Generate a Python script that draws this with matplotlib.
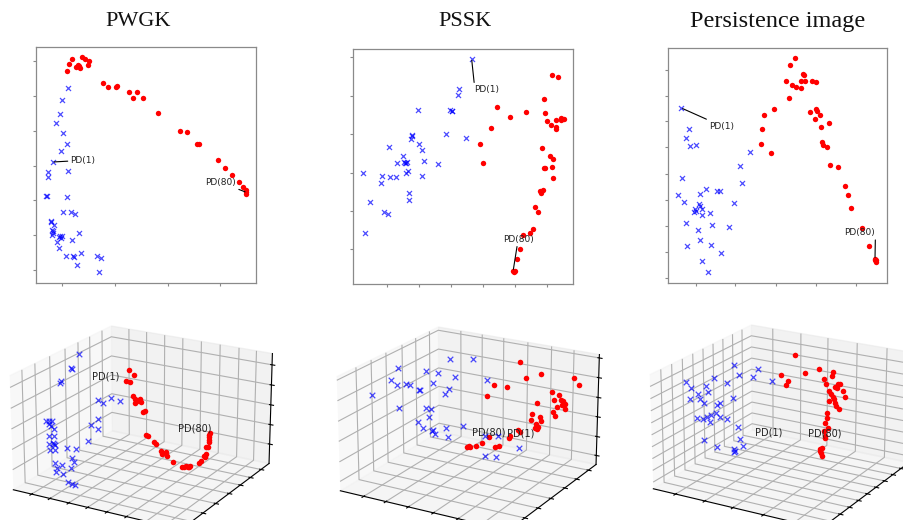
import numpy as np
import matplotlib
matplotlib.use("Agg")
import matplotlib.pyplot as plt
from matplotlib.ticker import NullFormatter
from mpl_toolkits.mplot3d import Axes3D  # noqa: F401

W, H = 904, 520
fig = plt.figure(figsize=(W / 100, H / 100), dpi=100)

titles = ["PWGK", "PSSK", "Persistence image"]

# ---------------- 2D embeddings (arbitrary embedding units) ----------------
pwgk_blue = np.array([
    (15.8, 41.3), (20.3, 63.6), (18.6, 60.0), (18.0, 55.6), (16.9, 53.0), (18.8, 50.0),
    (20.1, 46.6), (18.4, 44.6), (14.3, 38.2), (14.3, 36.8), (20.4, 38.5), (13.9, 31.1),
    (14.1, 31.0), (20.2, 30.7), (19.0, 26.2), (21.4, 26.4), (22.6, 25.7), (15.2, 23.7),
    (15.4, 23.4), (16.2, 22.3), (15.7, 20.8), (15.9, 20.5), (15.5, 19.3), (23.7, 20.1),
    (18.0, 19.1), (17.6, 18.8), (18.2, 18.4), (18.5, 19.2), (17.2, 17.2), (21.7, 18.0),
    (17.7, 15.4), (19.8, 13.2), (21.9, 13.2), (22.3, 12.9), (24.2, 14.0), (23.1, 10.5),
    (29.0, 13.0), (30.4, 12.5), (29.7, 8.4), (16.0, 20.0)])
pwgk_red = np.array([
    (21.7, 72.3), (24.7, 72.7), (25.5, 72.3), (26.8, 71.7), (20.8, 70.7), (26.5, 70.4),
    (22.8, 69.7), (23.3, 70.3), (24.1, 69.5), (20.2, 68.7), (23.6, 70.0), (31.0, 65.0),
    (32.3, 63.8), (34.8, 63.7), (35.2, 64.0), (38.8, 62.3), (41.2, 62.3), (39.9, 60.4),
    (43.0, 60.4), (47.5, 56.0), (54.0, 50.6), (56.0, 50.2), (59.0, 46.8), (59.8, 46.8),
    (65.3, 41.8), (67.5, 39.6), (69.5, 37.4), (71.6, 35.3), (73.0, 33.8), (73.7, 32.8),
    (73.8, 31.7), (73.9, 32.2)])

pssk_blue = np.array([
    (51.5, 72.2), (47.8, 63.2), (47.4, 61.5), (35.5, 56.9), (45.0, 56.8), (45.6, 56.5),
    (43.8, 49.8), (49.9, 48.6), (33.7, 49.4), (33.3, 48.1), (35.8, 46.8), (26.7, 45.7),
    (36.7, 44.8), (30.8, 43.0), (29.0, 41.0), (31.3, 41.0), (32.0, 41.3), (37.2, 41.6),
    (41.5, 40.6), (18.8, 38.0), (31.6, 38.2), (32.5, 38.8), (24.5, 37.3), (27.0, 36.8),
    (28.7, 36.8), (36.7, 37.1), (24.3, 35.1), (32.8, 32.1), (32.8, 30.1), (20.9, 29.5),
    (25.0, 26.5), (26.3, 25.8), (19.4, 20.0), (31.2, 41.2), (45.5, 56.7), (33.6, 49.2),
    (31.8, 41.0)])
pssk_red = np.array([
    (75.7, 67.4), (77.6, 66.9), (73.2, 60.2), (59.0, 57.7), (63.0, 54.8), (67.8, 56.3),
    (73.5, 55.9), (74.1, 53.5), (77.0, 53.9), (78.5, 54.6), (79.2, 54.2), (75.5, 52.4),
    (77.0, 51.7), (76.8, 51.2), (57.2, 51.6), (54.1, 46.8), (54.9, 41.0), (72.7, 45.5),
    (75.0, 43.1), (75.9, 42.3), (73.5, 39.7), (75.6, 39.8), (76.1, 36.7), (72.0, 32.8),
    (73.0, 33.1), (72.3, 32.0), (70.6, 28.0), (71.5, 26.4), (70.0, 21.2), (69.0, 20.0),
    (67.0, 19.5), (66.2, 15.4), (65.2, 12.4), (78.5, 54.0), (73.4, 39.6), (64.3, 8.5),
    (64.5, 8.8), (64.0, 8.8)])

pi_blue = np.array([
    (24.5, 57.7), (26.8, 51.5), (25.8, 48.7), (27.0, 46.2), (28.9, 46.5), (45.0, 44.5),
    (42.0, 40.2), (24.6, 36.6), (42.7, 35.3), (23.4, 31.7), (30.1, 31.8), (31.9, 33.4),
    (35.2, 32.7), (36.2, 32.7), (25.4, 29.5), (29.7, 28.9), (28.5, 27.3), (30.8, 27.3),
    (28.3, 26.4), (30.6, 25.7), (33.1, 26.1), (40.2, 29.1), (26.0, 23.2), (33.8, 22.6),
    (29.4, 21.0), (38.9, 22.1), (30.2, 18.1), (26.2, 16.3), (33.3, 16.5), (36.4, 14.2),
    (30.8, 11.8), (32.6, 8.5), (28.8, 26.8), (30.0, 28.3)])
pi_red = np.array([
    (58.5, 72.7), (57.1, 70.7), (55.8, 65.9), (57.6, 64.7), (59.0, 64.0), (60.4, 63.8),
    (61.1, 68.0), (61.3, 67.5), (60.5, 65.9), (61.7, 65.9), (63.8, 65.9), (65.0, 65.6),
    (56.7, 60.8), (52.3, 57.5), (49.3, 55.6), (48.7, 51.5), (48.3, 46.8), (51.5, 44.3),
    (63.1, 56.6), (64.8, 57.3), (65.3, 56.8), (66.0, 55.5), (64.5, 54.5), (68.8, 53.2),
    (66.4, 51.9), (66.8, 47.4), (67.1, 46.7), (68.2, 45.9), (69.2, 40.5), (71.4, 40.0),
    (73.6, 34.2), (74.4, 31.6), (75.5, 27.8), (78.7, 21.7), (80.7, 16.3), (82.8, 11.5),
    (83.0, 12.2), (82.5, 12.0), (82.6, 12.5)])

# axis limits and tick positions of the 2D panels
xlims2d = [(10.8, 76.8), (15.8, 82.0), (20.5, 86.2)]
ylims2d = [(5.0, 75.8), (4.8, 75.2), (5.2, 75.7)]
xticks2d = [[18.7, 34.5, 50.3, 66.0],
            [26.0, 35.7, 45.3, 55.0, 64.5, 74.2],
            [29.0, 40.7, 52.8, 65.0, 77.0]]
yticks2d = [[8.8, 19.4, 29.8, 40.2, 50.6, 61.0, 71.5],
            [15.2, 26.7, 38.2, 49.7, 61.2, 72.7],
            [6.7, 14.5, 22.3, 30.2, 38.0, 45.9, 53.7, 61.4, 69.2]]
# label text centres (PD(1), PD(80))
label_pos2d = [((24.9, 41.8), (66.2, 35.2)),
               ((56.1, 63.0), (65.5, 18.2)),
               ((36.6, 52.3), (78.1, 20.3))]
label_relpos = [((0.5, 0.5), (0.5, 0.5)),
                ((0.0, 1.0), (0.5, 0.5)),
                ((0.5, 0.5), (1.0, 0.0))]

# ---------------- 3D embeddings (normalised units) ----------------
pwgk3_blue = np.array([
    (0.067, 0.55, 0.956), (0.015, 0.55, 0.818), (0.021, 0.55, 0.810), (0.017, 0.45, 0.746),
    (0.012, 0.45, 0.729), (0.186, 0.55, 0.571), (0.220, 0.55, 0.556), (0.266, 0.55, 0.613),
    (0.322, 0.55, 0.603), (0.280, 0.40, 0.506), (0.234, 0.40, 0.437), (0.274, 0.40, 0.418),
    (0.213, 0.40, 0.286), (0.082, 0.20, 0.533), (0.103, 0.20, 0.539), (0.120, 0.20, 0.544),
    (0.099, 0.20, 0.507), (0.110, 0.20, 0.494), (0.128, 0.20, 0.473), (0.095, 0.20, 0.404),
    (0.131, 0.20, 0.409), (0.099, 0.20, 0.328), (0.120, 0.20, 0.344), (0.128, 0.20, 0.337),
    (0.103, 0.20, 0.283), (0.135, 0.20, 0.287), (0.208, 0.20, 0.330), (0.262, 0.20, 0.334),
    (0.135, 0.20, 0.333), (0.241, 0.20, 0.248), (0.254, 0.20, 0.215), (0.229, 0.20, 0.158),
    (0.135, 0.20, 0.170), (0.177, 0.20, 0.167), (0.141, 0.20, 0.132), (0.135, 0.20, 0.088),
    (0.183, 0.20, 0.092), (0.212, 0.20, 0.024), (0.239, 0.20, 0.017), (0.254, 0.20, 0.012)])
pwgk3_red = np.array([
    (0.352, 0.6, 0.863), (0.379, 0.6, 0.828), (0.331, 0.6, 0.764), (0.356, 0.6, 0.757),
    (0.377, 0.6, 0.640), (0.390, 0.6, 0.613), (0.400, 0.6, 0.601), (0.390, 0.6, 0.576),
    (0.421, 0.6, 0.622), (0.425, 0.6, 0.599), (0.436, 0.6, 0.510), (0.452, 0.6, 0.524),
    (0.457, 0.6, 0.310), (0.469, 0.6, 0.305), (0.502, 0.6, 0.262), (0.515, 0.6, 0.245),
    (0.546, 0.6, 0.192), (0.555, 0.6, 0.164), (0.582, 0.6, 0.194), (0.588, 0.6, 0.162),
    (0.624, 0.6, 0.111), (0.676, 0.6, 0.090), (0.703, 0.6, 0.101), (0.728, 0.6, 0.115),
    (0.714, 0.6, 0.095), (0.777, 0.6, 0.154), (0.791, 0.6, 0.180), (0.808, 0.6, 0.231),
    (0.818, 0.6, 0.311), (0.837, 0.6, 0.378), (0.837, 0.6, 0.425), (0.839, 0.6, 0.364),
    (0.818, 0.6, 0.250), (0.687, 0.6, 0.093), (0.722, 0.6, 0.104), (0.812, 0.6, 0.217),
    (0.839, 0.6, 0.410), (0.833, 0.6, 0.316), (0.843, 0.6, 0.448)])

pssk3_blue = np.array([
    (0.252, 0.7, 0.902), (0.398, 0.7, 0.940), (0.048, 0.5, 0.859), (0.226, 0.5, 0.875),
    (0.299, 0.5, 0.880), (0.002, 0.5, 0.737), (0.038, 0.5, 0.702), (0.100, 0.5, 0.731),
    (0.121, 0.5, 0.721), (0.268, 0.5, 0.780), (0.402, 0.5, 0.871), (0.596, 0.5, 0.901),
    (0.180, 0.5, 0.699), (0.186, 0.5, 0.694), (0.368, 0.5, 0.756), (0.343, 0.5, 0.702),
    (0.054, 0.5, 0.497), (0.222, 0.5, 0.548), (0.253, 0.5, 0.542), (0.243, 0.5, 0.472),
    (0.169, 0.5, 0.405), (0.205, 0.5, 0.362), (0.264, 0.5, 0.355), (0.280, 0.5, 0.323),
    (0.259, 0.5, 0.347), (0.347, 0.5, 0.405), (0.452, 0.5, 0.452), (0.362, 0.5, 0.329),
    (0.588, 0.5, 0.407), (0.667, 0.5, 0.430), (0.789, 0.5, 0.359), (0.588, 0.5, 0.219),
    (0.655, 0.5, 0.239), (0.014, 0.3, 0.698)])
pssk3_red = np.array([
    (0.627, 0.8, 0.924), (0.669, 0.8, 0.792), (0.756, 0.8, 0.853), (0.951, 0.8, 0.871),
    (0.983, 0.8, 0.819), (0.470, 0.8, 0.674), (0.551, 0.8, 0.680), (0.430, 0.8, 0.570),
    (0.824, 0.8, 0.710), (0.863, 0.8, 0.700), (0.738, 0.8, 0.592), (0.834, 0.8, 0.645),
    (0.876, 0.8, 0.655), (0.891, 0.8, 0.653), (0.903, 0.8, 0.626), (0.882, 0.8, 0.611),
    (0.855, 0.8, 0.590), (0.905, 0.8, 0.587), (0.832, 0.8, 0.537), (0.847, 0.8, 0.502),
    (0.706, 0.8, 0.478), (0.702, 0.8, 0.421), (0.754, 0.8, 0.467), (0.763, 0.8, 0.430),
    (0.731, 0.8, 0.399), (0.744, 0.8, 0.378), (0.723, 0.8, 0.357), (0.738, 0.8, 0.352),
    (0.633, 0.8, 0.298), (0.623, 0.8, 0.308), (0.570, 0.8, 0.243), (0.564, 0.8, 0.222),
    (0.441, 0.8, 0.188), (0.399, 0.8, 0.120), (0.357, 0.8, 0.083), (0.313, 0.8, 0.064),
    (0.319, 0.8, 0.056), (0.481, 0.8, 0.105), (0.504, 0.8, 0.130), (0.300, 0.8, 0.050)])

pi3_blue = np.array([
    (0.163, 0.55, 0.875), (0.314, 0.55, 0.877), (0.193, 0.55, 0.797), (0.281, 0.55, 0.802),
    (0.398, 0.55, 0.792), (0.038, 0.55, 0.726), (0.115, 0.55, 0.697), (0.155, 0.55, 0.574),
    (0.071, 0.55, 0.508), (0.050, 0.55, 0.477), (0.042, 0.55, 0.401), (0.067, 0.55, 0.372),
    (0.115, 0.55, 0.374), (0.184, 0.55, 0.321), (0.197, 0.55, 0.208), (0.214, 0.55, 0.155),
    (0.046, 0.55, 0.088), (0.155, 0.55, 0.103), (0.161, 0.55, 0.092), (0.155, 0.55, 0.081),
    (0.018, 0.30, 0.798), (0.049, 0.30, 0.758), (0.146, 0.30, 0.800), (0.154, 0.30, 0.753),
    (0.095, 0.30, 0.719), (0.045, 0.30, 0.661), (0.108, 0.30, 0.671), (0.129, 0.30, 0.643),
    (0.175, 0.30, 0.553), (0.150, 0.30, 0.530), (0.085, 0.30, 0.495), (0.125, 0.30, 0.498),
    (0.167, 0.30, 0.486), (0.127, 0.30, 0.317)])
pi3_red = np.array([
    (0.395, 0.8, 0.912), (0.311, 0.8, 0.709), (0.351, 0.8, 0.659), (0.343, 0.8, 0.626),
    (0.456, 0.8, 0.762), (0.543, 0.8, 0.822), (0.629, 0.8, 0.823), (0.625, 0.8, 0.785),
    (0.577, 0.8, 0.746), (0.587, 0.8, 0.702), (0.661, 0.8, 0.725), (0.675, 0.8, 0.729),
    (0.646, 0.8, 0.690), (0.692, 0.8, 0.663), (0.608, 0.8, 0.647), (0.707, 0.8, 0.616),
    (0.629, 0.8, 0.592), (0.608, 0.8, 0.555), (0.644, 0.8, 0.544), (0.650, 0.8, 0.515),
    (0.667, 0.8, 0.496), (0.594, 0.8, 0.443), (0.598, 0.8, 0.398), (0.587, 0.8, 0.349),
    (0.604, 0.8, 0.308), (0.577, 0.8, 0.269), (0.587, 0.8, 0.226), (0.583, 0.8, 0.209),
    (0.566, 0.8, 0.112), (0.558, 0.8, 0.078), (0.562, 0.8, 0.058), (0.556, 0.8, 0.093),
    (0.655, 0.8, 0.686), (0.619, 0.8, 0.620), (0.636, 0.8, 0.579), (0.566, 0.8, 0.035)])

# 3D label anchor positions (PD(1), PD(80))
label_pos3d = [((0.12, 0.6, 0.72), (0.65, 0.6, 0.40)),
               ((0.553, 0.8, 0.228), (0.336, 0.8, 0.169)),
               ((0.139, 0.8, 0.094), (0.478, 0.8, 0.192))]
ticks3d = [
    ([0.115, 0.229, 0.344, 0.458, 0.573, 0.688, 0.802, 0.906],
     [0.11, 0.23, 0.37, 0.52, 0.65, 0.77, 0.90],
     [0.18, 0.36, 0.54, 0.72, 0.90]),
    ([0.147, 0.284, 0.42, 0.57, 0.715, 0.85],
     [0.175, 0.317, 0.46, 0.62, 0.76, 0.905],
     [0.084, 0.259, 0.44, 0.616, 0.794, 0.97]),
    ([0.14, 0.32, 0.49, 0.67, 0.85],
     [0.10, 0.20, 0.30, 0.40, 0.50, 0.60, 0.70, 0.80, 0.90],
     [0.06, 0.165, 0.27, 0.375, 0.48, 0.585, 0.69, 0.795, 0.90]),
]

# ---------------- layout ----------------
def fx(px):
    return px / W


def fy(py):
    return 1 - py / H


top_boxes = [(36, 47, 256, 283), (353, 49, 573, 284), (668, 48, 887, 283)]
title_x = [138, 465, 778]
title_sizes = [16, 16, 17.5]
centers3d = [(140, 425), (467, 426), (780, 424)]
S3 = 285

sets2d = [(pwgk_blue, pwgk_red), (pssk_blue, pssk_red), (pi_blue, pi_red)]
sets3d = [(pwgk3_blue, pwgk3_red), (pssk3_blue, pssk3_red), (pi3_blue, pi3_red)]

frame_col = "#8a8a8a"
for i in range(3):
    l, t, r, b = top_boxes[i]
    ax = fig.add_axes([fx(l), fy(b), (r - l) / W, (b - t) / H])
    blue, red = sets2d[i]
    ax.scatter(blue[:, 0], blue[:, 1], marker="x", s=13, c="blue", alpha=0.7,
               linewidths=0.9, zorder=3)
    ax.scatter(red[:, 0], red[:, 1], marker="o", s=15, c="red", linewidths=0,
               zorder=3)
    (t1, t80) = label_pos2d[i]
    (r1, r80) = label_relpos[i]
    for lab, pt, tp, rp in (("PD(1)", blue[0], t1, r1), ("PD(80)", red[-1], t80, r80)):
        ax.annotate(lab, xy=pt, xytext=tp, textcoords="data", ha="center", va="center",
                    fontsize=6.5, color="#222222",
                    arrowprops=dict(arrowstyle="-", color="black", lw=0.8,
                                    shrinkA=0, shrinkB=1, relpos=rp))
    ax.set_xlim(*xlims2d[i])
    ax.set_ylim(*ylims2d[i])
    ax.set_xticks(xticks2d[i])
    ax.set_yticks(yticks2d[i])
    ax.xaxis.set_major_formatter(NullFormatter())
    ax.yaxis.set_major_formatter(NullFormatter())
    ax.tick_params(length=2.5, width=0.8, color=frame_col, direction="out")
    for sp in ax.spines.values():
        sp.set_color(frame_col)
        sp.set_linewidth(0.9)
    fig.text(fx(title_x[i]), fy(26.5), titles[i], ha="center", va="baseline",
             fontsize=title_sizes[i], family="Liberation Serif", color="#111111")

for i in range(3):
    cx, cy = centers3d[i]
    ax = fig.add_axes([fx(cx - S3 / 2), fy(cy + S3 / 2), S3 / W, S3 / H],
                      projection="3d")
    ax.patch.set_alpha(0)
    ax.view_init(elev=20.5, azim=-60)
    ax.set_box_aspect((1, 1, 0.63))
    blue, red = sets3d[i]
    ax.scatter(blue[:, 0], blue[:, 1], blue[:, 2], marker="x", s=16, c="blue",
               alpha=0.7, linewidths=0.9, depthshade=False)
    ax.scatter(red[:, 0], red[:, 1], red[:, 2], marker="o", s=16, c="red",
               linewidths=0, depthshade=False)
    p1, p80 = label_pos3d[i]
    ax.text(*p1, "PD(1)", fontsize=7, color="#222222")
    ax.text(*p80, "PD(80)", fontsize=7, color="#222222")
    ax.set_xlim(0, 1)
    ax.set_ylim(0, 1)
    ax.set_zlim(0, 1)
    xt, yt, zt = ticks3d[i]
    ax.set_xticks(xt)
    ax.set_yticks(yt)
    ax.set_zticks(zt)
    for axis in (ax.xaxis, ax.yaxis, ax.zaxis):
        axis.set_major_formatter(NullFormatter())
        axis.label.set_visible(False)
        axis.get_offset_text().set_visible(False)

fig.savefig("out.png", dpi=100)
